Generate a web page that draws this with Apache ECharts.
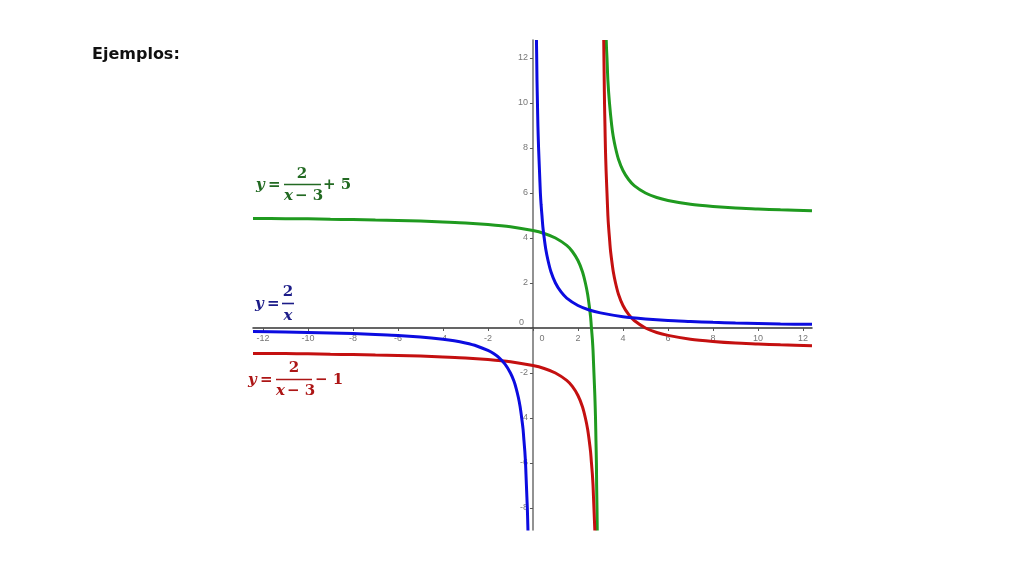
<!DOCTYPE html>
<html>
<head>
<meta charset="utf-8">
<script src="https://cdn.jsdelivr.net/npm/echarts@6/dist/echarts.min.js"></script>
<style>
html,body{margin:0;padding:0;background:#fff;}
#chart{width:1024px;height:576px;}
</style>
</head>
<body>
<div id="chart"></div>
<script>
// Tick labels
var xTicks = [-12, -10, -8, -6, -4, -2, 0, 2, 4, 6, 8, 10, 12];
var yTicks = [-8, -6, -4, -2, 0, 2, 4, 6, 8, 10, 12];

// y = 2/x  (blue)
var blueLeft = [[-12.44,-0.16],[-11,-0.18],[-10,-0.2],[-9,-0.22],[-8,-0.25],[-7,-0.29],[-6,-0.33],[-5,-0.4],[-4,-0.5],[-3.5,-0.57],[-3,-0.67],[-2.5,-0.8],[-2,-1],[-1.75,-1.14],[-1.5,-1.33],[-1.25,-1.6],[-1,-2],[-0.85,-2.35],[-0.75,-2.67],[-0.65,-3.08],[-0.57,-3.5],[-0.5,-4],[-0.44,-4.5],[-0.4,-5],[-0.36,-5.5],[-0.33,-6],[-0.31,-6.5],[-0.29,-7],[-0.27,-7.5],[-0.25,-8],[-0.235,-8.5],[-0.222,-9]];
var blueRight = [[0.156,12.8],[0.167,12],[0.18,11],[0.2,10],[0.22,9],[0.25,8],[0.29,7],[0.33,6],[0.36,5.5],[0.4,5],[0.44,4.5],[0.5,4],[0.57,3.5],[0.67,3],[0.8,2.5],[1,2],[1.25,1.6],[1.5,1.33],[2,1],[2.5,0.8],[3,0.67],[4,0.5],[5,0.4],[6,0.33],[7,0.29],[8,0.25],[9,0.22],[10,0.2],[11,0.18],[12.4,0.16]];

// y = 2/(x-3) - 1  (red)
var redLeft = [[-12.44,-1.13],[-11,-1.14],[-10,-1.15],[-9,-1.17],[-8,-1.18],[-7,-1.2],[-6,-1.22],[-5,-1.25],[-4,-1.29],[-3,-1.33],[-2,-1.4],[-1,-1.5],[0,-1.67],[0.5,-1.8],[1,-2],[1.5,-2.33],[1.75,-2.6],[2,-3],[2.2,-3.5],[2.33,-4],[2.43,-4.5],[2.5,-5],[2.56,-5.5],[2.6,-6],[2.64,-6.5],[2.67,-7],[2.69,-7.5],[2.71,-8],[2.73,-8.5],[2.75,-9]];
var redRight = [[3.145,12.8],[3.154,12],[3.167,11],[3.18,10],[3.2,9],[3.22,8],[3.25,7],[3.29,6],[3.33,5],[3.36,4.5],[3.4,4],[3.44,3.5],[3.5,3],[3.57,2.5],[3.67,2],[3.8,1.5],[4,1],[4.25,0.6],[4.5,0.33],[5,0],[5.5,-0.2],[6,-0.33],[7,-0.5],[8,-0.6],[9,-0.67],[10,-0.71],[11,-0.75],[12.4,-0.79]];

// y = 2/(x-3) + 5  (green)
var greenLeft = [[-12.44,4.87],[-11,4.86],[-10,4.85],[-9,4.83],[-8,4.82],[-7,4.8],[-6,4.78],[-5,4.75],[-4,4.71],[-3,4.67],[-2,4.6],[-1,4.5],[0,4.33],[0.5,4.2],[1,4],[1.5,3.67],[1.75,3.4],[2,3],[2.2,2.5],[2.33,2],[2.43,1.5],[2.5,1],[2.56,0.5],[2.6,0],[2.64,-0.5],[2.67,-1],[2.69,-1.5],[2.71,-2],[2.75,-3],[2.78,-4],[2.8,-5],[2.82,-6],[2.83,-7],[2.846,-8],[2.857,-9]];
var greenRight = [[3.256,12.8],[3.27,12.4],[3.29,12],[3.33,11],[3.4,10],[3.5,9],[3.57,8.5],[3.67,8],[3.8,7.5],[4,7],[4.25,6.6],[4.5,6.33],[5,6],[5.5,5.8],[6,5.67],[7,5.5],[8,5.4],[9,5.33],[10,5.29],[11,5.25],[12.4,5.21]];

var blueColor = '#0c0ce0';
var redColor = '#c41010';
var greenColor = '#1f9a1f';

var X_MIN = -12.44, X_MAX = 12.4, Y_MIN = -8.98, Y_MAX = 12.8;
var G_LEFT = 253, G_RIGHT = 212, G_TOP = 40, G_BOTTOM = 46;
var W = 1024, H = 576;
var plotW = W - G_LEFT - G_RIGHT, plotH = H - G_TOP - G_BOTTOM;
// shift the axes so that they cross at the origin
var xAxisOffset = -((0 - Y_MIN) / (Y_MAX - Y_MIN)) * plotH;
var yAxisOffset = -((0 - X_MIN) / (X_MAX - X_MIN)) * plotW;

var chart = echarts.init(document.getElementById('chart'));

function curve(name, data, color) {
  return {
    name: name, type: 'line', data: data, showSymbol: false, symbol: 'none',
    smooth: 0.25, clip: true,
    lineStyle: { color: color, width: 3 }, silent: true, animation: false
  };
}

var mathFont = '"DejaVu Serif", "Liberation Serif", serif';

function label(color, parts) {
  var els = [];
  parts.forEach(function (p) {
    if (p.type === 'line') {
      els.push({ type: 'line', shape: { x1: p.x1, y1: p.y, x2: p.x2, y2: p.y },
        style: { stroke: color, lineWidth: 1.6 } });
    } else {
      els.push({ type: 'text', x: p.x, y: p.y,
        style: { text: p.text, fill: color, font: (p.italic ? 'italic ' : '') + 'bold 15px ' + mathFont,
          align: p.align || 'left', verticalAlign: 'middle' } });
    }
  });
  return { type: 'group', x: 0, y: 0, children: els };
}

chart.setOption({
  animation: false,
  backgroundColor: '#ffffff',
  grid: { left: G_LEFT, right: G_RIGHT, top: G_TOP, bottom: G_BOTTOM },
  xAxis: {
    type: 'value', min: X_MIN, max: X_MAX, position: 'bottom', offset: xAxisOffset,
    splitLine: { show: false },
    axisLine: { onZero: false, lineStyle: { color: '#333', width: 1.5 } },
    axisTick: { show: true, customValues: xTicks, length: 3, lineStyle: { color: '#555' } },
    axisLabel: {
      customValues: xTicks, color: '#777', fontSize: 9, fontFamily: 'Arial, "Liberation Sans", sans-serif', margin: 6,
      formatter: function (v) { return v === 0 ? '{z|0}' : String(v); },
      rich: { z: { padding: [0, 0, 0, 18], fontSize: 9, color: '#777' } }
    }
  },
  yAxis: {
    type: 'value', min: Y_MIN, max: Y_MAX, position: 'left', offset: yAxisOffset,
    splitLine: { show: false },
    axisLine: { onZero: false, lineStyle: { color: '#777', width: 1.6 } },
    axisTick: { show: true, customValues: yTicks, length: 3, lineStyle: { color: '#555' } },
    axisLabel: {
      customValues: yTicks, color: '#777', fontSize: 9, fontFamily: 'Arial, "Liberation Sans", sans-serif', margin: 5,
      formatter: function (v) { return v === 0 ? '{z|0}' : String(v); },
      rich: { z: { padding: [0, 4, 10, 0], fontSize: 9, color: '#777' } }
    }
  },
  series: [
    curve('2/(x-3)+5 a', greenLeft, greenColor),
    curve('2/(x-3)+5 b', greenRight, greenColor),
    curve('2/(x-3)-1 a', redLeft, redColor),
    curve('2/(x-3)-1 b', redRight, redColor),
    curve('2/x a', blueLeft, blueColor),
    curve('2/x b', blueRight, blueColor)
  ],
  graphic: [
    { type: 'text', left: 92, top: 47,
      style: { text: 'Ejemplos:', fill: '#111', font: 'bold 16px "DejaVu Sans", sans-serif' } },
    label('#236a23', [
      { text: 'y', italic: true, x: 256, y: 185 },
      { text: '=', x: 268, y: 185 },
      { text: '2', x: 302, y: 174, align: 'center' },
      { type: 'line', x1: 284, x2: 321, y: 184.5 },
      { text: 'x', italic: true, x: 284, y: 196 },
      { text: '− 3', x: 295, y: 196 },
      { text: '+ 5', x: 323, y: 185 }
    ]),
    label('#1c1c88', [
      { text: 'y', italic: true, x: 255, y: 304 },
      { text: '=', x: 267, y: 304 },
      { text: '2', x: 288, y: 292, align: 'center' },
      { type: 'line', x1: 282, x2: 294, y: 303.5 },
      { text: 'x', italic: true, x: 288, y: 316, align: 'center' }
    ]),
    label('#ad1616', [
      { text: 'y', italic: true, x: 248, y: 380 },
      { text: '=', x: 260, y: 380 },
      { text: '2', x: 294, y: 368, align: 'center' },
      { type: 'line', x1: 276, x2: 312, y: 379.5 },
      { text: 'x', italic: true, x: 276, y: 391 },
      { text: '− 3', x: 287, y: 391 },
      { text: '− 1', x: 315, y: 380 }
    ])
  ]
});
</script>
</body>
</html>
